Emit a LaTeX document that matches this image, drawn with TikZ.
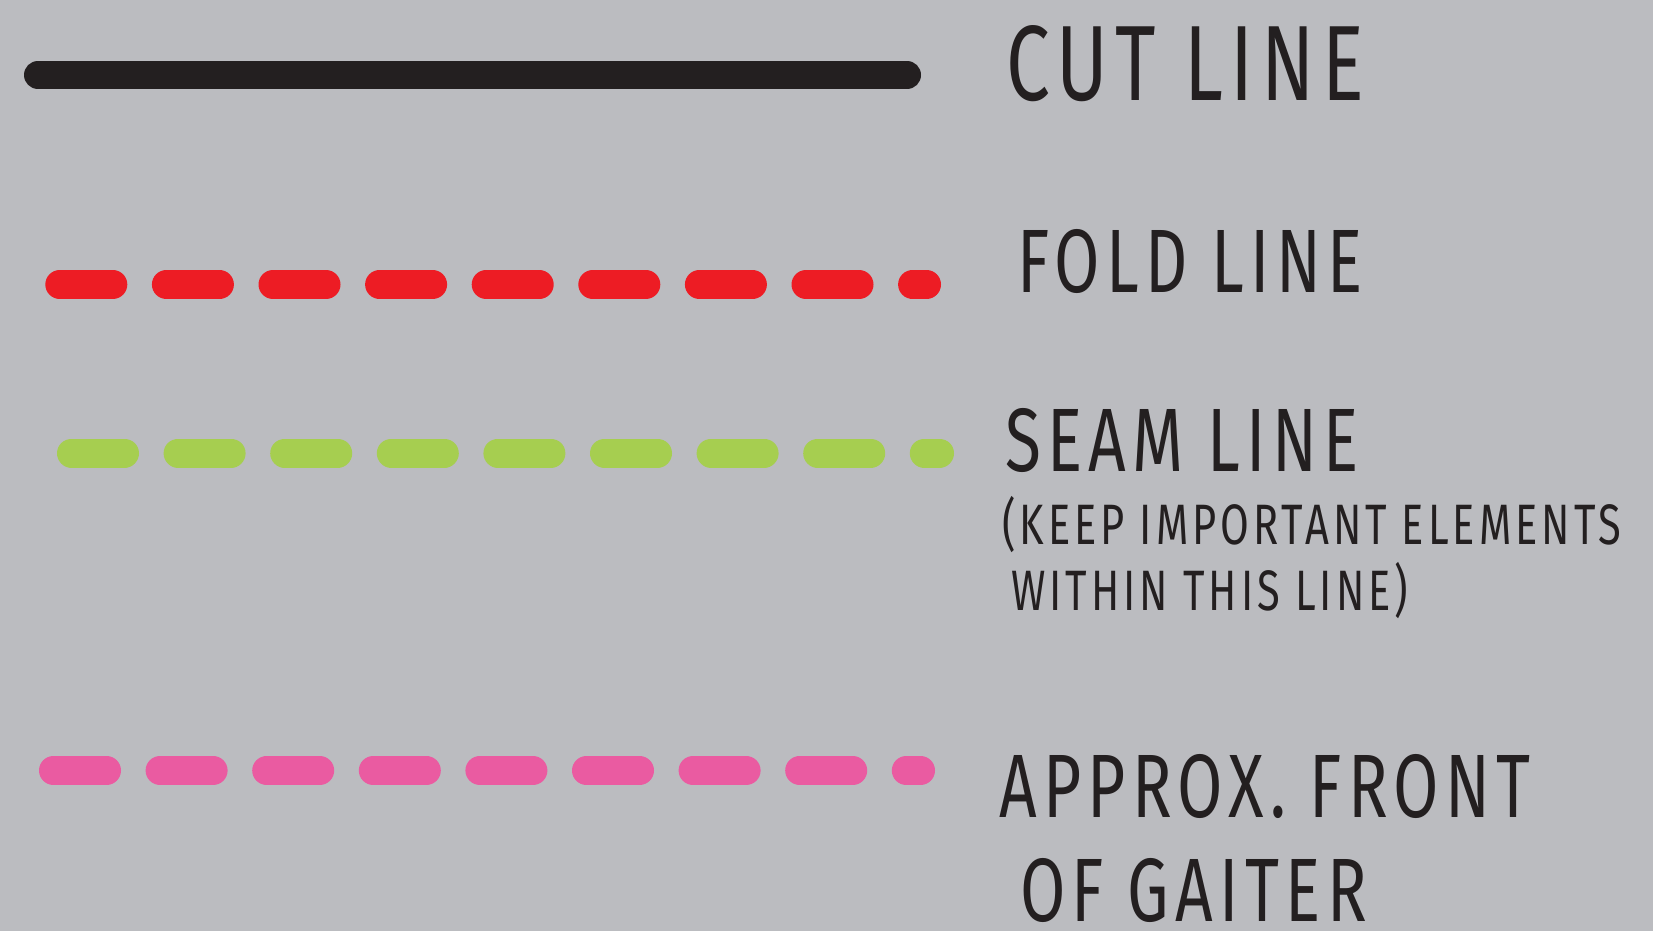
\documentclass[tikz,border=0pt]{standalone}
\usepackage{fontspec}
\newfontfamily\legendfont[FakeStretch=0.73,LetterSpace=7]{Fira Sans}
\definecolor{bggray}{RGB}{187,188,192}
\definecolor{inkblack}{RGB}{35,31,32}
\definecolor{foldred}{RGB}{237,28,36}
\definecolor{seamgreen}{RGB}{166,206,80}
\definecolor{frontpink}{RGB}{234,91,161}

\begin{document}
\begin{tikzpicture}[x=1pt,y=-1pt,line cap=round,
                    label text/.style={anchor=base west,inner sep=0pt,text=inkblack,
                                       font=\legendfont\fontsize{90}{90}\selectfont},
                    note text/.style={label text,font=\legendfont\fontsize{57}{57}\selectfont},
                    dash line/.style={line width=29pt,dash pattern=on 53pt off 53.6pt}]

  \useasboundingbox (0,0) rectangle (1653,931);
  \fill[bggray] (0,0) rectangle (1653,931);

  % legend samples
  \coordinate (cutA) at (38,75);     \coordinate (cutB) at (907,75);
  \coordinate (foldA) at (59.8,284.5); \coordinate (foldB) at (926.5,284.5);
  \coordinate (seamA) at (71.5,453);  \coordinate (seamB) at (939.5,453);
  \coordinate (frontA) at (53.5,770.5); \coordinate (frontB) at (920.5,770.5);

  \path (cutA) edge [line width=28pt,color=inkblack] (cutB)
        (foldA) edge [dash line,color=foldred] (foldB)
        (seamA) edge [dash line,color=seamgreen] (seamB)
        (frontA) edge [dash line,color=frontpink] (frontB);

  % legend texts
  \node[label text,font=\legendfont\fontsize{107}{107}\selectfont] (cut) at (1006,101) {CUT LINE};
  \node[label text] (fold) at (1017,292) {FOLD LINE};
  \node[label text] (seam) at (1005,471) {SEAM LINE};
  \node[note text] (keep) at (1002,544) {(KEEP IMPORTANT ELEMENTS};
  \node[note text] (within) at (1011,610) {WITHIN THIS LINE)};
  \node[label text] (approx) at (999,817) {APPROX. FRONT};
  \node[label text] (gaiter) at (1020,921) {OF GAITER};
\end{tikzpicture}
\end{document}
